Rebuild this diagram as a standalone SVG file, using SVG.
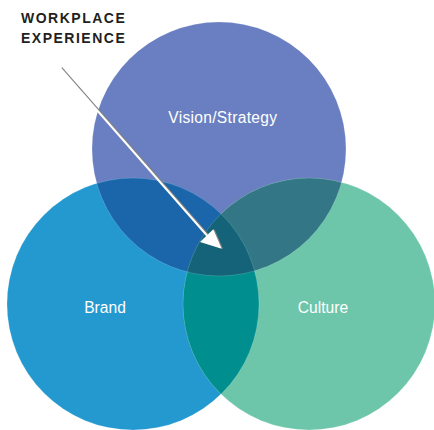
<svg xmlns="http://www.w3.org/2000/svg" width="434" height="430" viewBox="0 0 434 430">
<style>
.lbl{font-family:"Liberation Sans",Arial,sans-serif;font-size:15.6px;fill:#ffffff;text-anchor:middle}
.title{font-family:"Liberation Sans",Arial,sans-serif;font-weight:bold;font-size:14px;fill:#231f20;letter-spacing:1.5px}
.edge{fill:none;stroke:#ffffff;stroke-opacity:0.22;stroke-width:0.7}
</style>
<defs>
<clipPath id="cV"><circle cx="219" cy="149" r="127"/></clipPath>
<clipPath id="cB"><circle cx="133" cy="304" r="126"/></clipPath>
<clipPath id="cC"><circle cx="309" cy="304" r="126"/></clipPath>
<clipPath id="cBC" clip-path="url(#cB)"><circle cx="309" cy="304" r="126"/></clipPath>
</defs>
<rect width="434" height="430" fill="#ffffff"/>
<g id="title">
<text class="title" x="21" y="23.3">WORKPLACE</text>
<text class="title" x="21" y="42.7">EXPERIENCE</text>
</g>
<g id="vision">
<circle cx="219" cy="149" r="127" fill="#6a7fc1"/>
<text class="lbl" x="222.8" y="123.3" style="letter-spacing:0.3px">Vision/Strategy</text>
</g>
<g id="brand">
<circle cx="133" cy="304" r="126" fill="#2499cf"/>
<text class="lbl" x="105" y="313.3">Brand</text>
</g>
<g id="culture">
<circle cx="309" cy="304" r="126" fill="#6ec6aa"/>
<text class="lbl" x="323" y="313.3">Culture</text>
</g>
<g id="overlaps">
<circle cx="219" cy="149" r="127" fill="#1b66ab" clip-path="url(#cB)"/>
<circle cx="219" cy="149" r="127" fill="#337686" clip-path="url(#cC)"/>
<circle cx="309" cy="304" r="126" fill="#008e8f" clip-path="url(#cB)"/>
<circle cx="219" cy="149" r="127" fill="#146378" clip-path="url(#cBC)"/>
<circle class="edge" cx="219" cy="149" r="127"/>
<circle class="edge" cx="133" cy="304" r="126"/>
<circle class="edge" cx="309" cy="304" r="126"/>
</g>
<g id="connectors">
<g transform="translate(1.3,0)" fill="#808080" stroke="#808080">
<line x1="60" y1="68" x2="207" y2="235.5" stroke-width="2.4"/>
<polygon points="221.7,248.7 200,242 213.3,229.3" stroke="none"/>
</g>
<line x1="60" y1="68" x2="207" y2="235.5" stroke="#ffffff" stroke-width="2"/>
<polygon points="221.7,248.7 200,242 213.3,229.3" fill="#ffffff"/>
</g>
</svg>
